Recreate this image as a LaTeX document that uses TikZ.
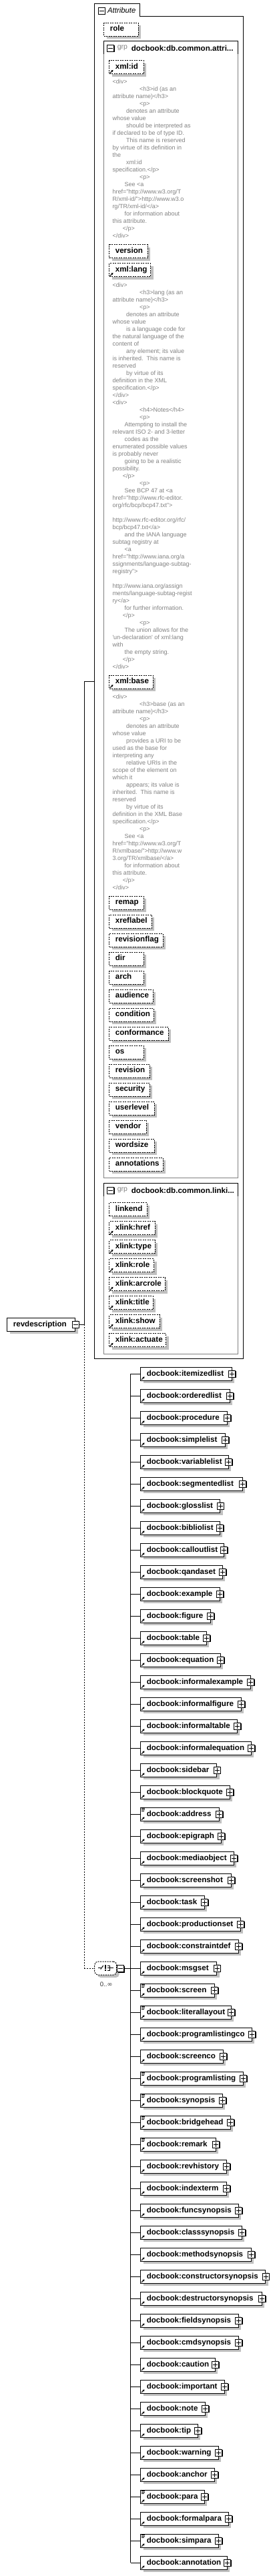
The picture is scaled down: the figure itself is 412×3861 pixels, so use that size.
\documentclass[tikz,border=0pt]{standalone}
\usepackage{fontspec}
\setmainfont{Liberation Sans}
\newfontfamily\symfont{DejaVu Sans}
\usetikzlibrary{arrows.meta,shadows}
\definecolor{shadowgray}{RGB}{192,192,192}
\definecolor{descgray}{RGB}{130,130,130}
\definecolor{grpgray}{RGB}{128,128,128}
\newcommand\indA{\hspace*{40.7pt}}
\newcommand\indB{\hspace*{20.7pt}}
\newcommand\indC{\hspace*{18pt}}
\newcommand\indD{\hspace*{15.3pt}}
\tikzset{
  lbl/.style={font=\fontsize{11.6}{13}\selectfont\bfseries},
  shadowed/.style={general shadow={fill=shadowgray, shadow xshift=4pt, shadow yshift=-4pt}},
  boxbase/.style={line width=1pt, fill=white, minimum height=20pt, inner ysep=0pt, inner xsep=9pt, align=left, text height=8.5pt, text depth=1.3pt, shadowed, lbl},
  attbox/.style={boxbase, draw, dash pattern=on 2pt off 1.5pt, anchor=north west, text depth=3.6pt},
  elbox/.style={boxbase, draw, anchor=west},
  desc/.style={font=\fontsize{9}{11}\selectfont, text=descgray, align=left, inner sep=0pt, anchor=north west},
  pmbox/.style={draw, line width=1pt, fill=white, minimum size=10pt, inner sep=0pt, general shadow={fill=black, shadow xshift=1pt, shadow yshift=-1pt}},
  plusbox/.style={pmbox, path picture={
     \draw[line width=1pt] ([xshift=-3.5pt]path picture bounding box.center) -- ([xshift=3.5pt]path picture bounding box.center);
     \draw[line width=1pt] ([yshift=-3.5pt]path picture bounding box.center) -- ([yshift=3.5pt]path picture bounding box.center);}},
  minusbox/.style={pmbox, path picture={
     \draw[line width=1pt] ([xshift=-3.5pt]path picture bounding box.center) -- ([xshift=3.5pt]path picture bounding box.center);}},
  refarrow/.style={line width=1.1pt, -{Triangle[length=2.6pt,width=3.2pt]}},
  conn/.style={line width=1pt},
  grplbl/.style={anchor=west, inner sep=0pt, text=grpgray, font=\fontsize{10.5}{12}\selectfont},
  grpname/.style={anchor=west, inner sep=0pt, lbl},
  choicebox/.style={draw, line width=1pt, dash pattern=on 2pt off 1.5pt, rounded corners=5pt, fill=white, minimum width=33pt, minimum height=20pt, inner sep=0pt, shadowed},
}
\newcommand\refmark[1]{\draw[refarrow] ([shift={(1.6,-1.8)}]#1.south west) -- ++(4.6,-4.6);}
\newcommand\mixmark[1]{\draw[line width=0.9pt] ([shift={(1.8,1.8)}]#1.north west) -- ++(5.2,0) ([shift={(1.8,3.5)}]#1.north west) -- ++(5.2,0) ([shift={(1.8,5.2)}]#1.north west) -- ++(3.6,0);}
\begin{document}
\begin{tikzpicture}[x=1pt,y=-1pt]
\useasboundingbox (0,0) rectangle (412,3861);
\fill[white] (0,0) rectangle (412,3861);
% ---------- Attribute container ----------
\draw[conn] (141.7,2036) -- (141.7,5.7) -- (209.3,5.7) -- (209.3,24.3) -- (364.3,24.3) -- (364.3,2036) -- cycle;
\node[minusbox] (attrminus) at (152,16) {};
\node[anchor=west, inner sep=0pt, font=\fontsize{11.3}{13}\selectfont\itshape] (attrtitle) at (161,15.5) {Attribute};
\coordinate (attrin) at (141.7,1021.7);
\node[attbox, text width=33.4pt] (role) at (155.3,33.7) {role};
% ---------- group 1 ----------
\draw[grpgray, line width=1pt] (155.3,61.3) rectangle (356.3,1765.7);
\draw[conn] (155.3,81) -- (155.3,61.3) -- (356.3,61.3) -- (356.3,81);
\node[minusbox] (g1minus) at (165.8,72) {};
\node[grplbl] (g1grp) at (175.7,72) {grp};
\node[grpname] (g1name) at (196.7,72) {docbook:db.common.attri...};
\node[attbox, text width=33.4pt] (xmlid) at (163.3,90.3) {xml:id};
\refmark{xmlid}
\node[desc] (xmliddesc) at (168.3,118.5) {\rule{0pt}{7pt}<div>\\
\indA<h3>id (as an\\
attribute name)</h3>\\
\indA<p>\\
\indB denotes an attribute\\
whose value\\
\indB should be interpreted as\\
if declared to be of type ID.\\
\indB This name is reserved\\
by virtue of its definition in\\
the\\
\indB xml:id\\
specification.</p>\\
\indA<p>\\
\indC See <a\\
href="http://www.w3.org/T\\
R/xml-id/">http://www.w3.o\\
rg/TR/xml-id/</a>\\
\indC for information about\\
this attribute.\\
\indD</p>\\
</div>};
\node[attbox, text width=39.4pt] (version) at (163.3,366.3) {version};
\node[attbox, text width=43.7pt] (xmllang) at (163.3,394.3) {xml:lang};
\refmark{xmllang}
\node[desc] (xmllangdesc) at (168.3,422.9) {\rule{0pt}{7pt}<div>\\
\indA<h3>lang (as an\\
attribute name)</h3>\\
\indA<p>\\
\indB denotes an attribute\\
whose value\\
\indB is a language code for\\
the natural language of the\\
content of\\
\indB any element; its value\\
is inherited.\ \ This name is\\
reserved\\
\indB by virtue of its\\
definition in the XML\\
specification.</p>\\
</div>\\
<div>\\
\indA<h4>Notes</h4>\\
\indA<p>\\
\indC Attempting to install the\\
relevant ISO 2- and 3-letter\\
\indC codes as the\\
enumerated possible values\\
is probably never\\
\indC going to be a realistic\\
possibility.\\
\indD</p>\\
\indA<p>\\
\indC See BCP 47 at <a\\
href="http://www.rfc-editor.\\
org/rfc/bcp/bcp47.txt">\\
\mbox{}\\
http://www.rfc-editor.org/rfc/\\
bcp/bcp47.txt</a>\\
\indC and the IANA language\\
subtag registry at\\
\indC <a\\
href="http://www.iana.org/a\\
ssignments/language-subtag-\\
registry">\\
\mbox{}\\
http://www.iana.org/assign\\
ments/language-subtag-regist\\
ry</a>\\
\indC for further information.\\
\indD</p>\\
\indA<p>\\
\indC The union allows for the\\
\textquotesingle un-declaration\textquotesingle{} of xml:lang\\
with\\
\indC the empty string.\\
\indD</p>\\
</div>};
\node[attbox, text width=47.4pt] (xmlbase) at (163.3,1011.7) {xml:base};
\refmark{xmlbase}
\node[desc] (xmlbasedesc) at (168.3,1040.2) {\rule{0pt}{7pt}<div>\\
\indA<h3>base (as an\\
attribute name)</h3>\\
\indA<p>\\
\indB denotes an attribute\\
whose value\\
\indB provides a URI to be\\
used as the base for\\
interpreting any\\
\indB relative URIs in the\\
scope of the element on\\
which it\\
\indB appears; its value is\\
inherited.\ \ This name is\\
reserved\\
\indB by virtue of its\\
definition in the XML Base\\
specification.</p>\\
\indA<p>\\
\indC See <a\\
href="http://www.w3.org/T\\
R/xmlbase/">http://www.w\\
3.org/TR/xmlbase/</a>\\
\indC for information about\\
this attribute.\\
\indD</p>\\
</div>};
\foreach \k/\nm/\r in {0/remap/214.7, 1/xreflabel/226.7, 2/revisionflag/243.7, 3/dir/214.7, 4/arch/214.7, 5/audience/228.7, 6/condition/229.7, 7/conformance/251.7, 8/os/214.7, 9/revision/223.7, 10/security/223.7, 11/userlevel/230.7, 12/vendor/218.7, 13/wordsize/230.7, 14/annotations/243.7}{
  \pgfmathsetmacro\ty{1342.7+28*\k}
  \pgfmathsetmacro\tw{\r-163.3-18}
  \node[attbox, text width=\tw pt] (ga\k) at (163.3,\ty) {\nm};
}
% ---------- group 2 ----------
\draw[grpgray, line width=1pt] (155.3,1773.3) rectangle (356.3,2029.3);
\draw[conn] (155.3,1793) -- (155.3,1773.3) -- (356.3,1773.3) -- (356.3,1793);
\node[minusbox] (g2minus) at (165.8,1784) {};
\node[grplbl] (g2grp) at (175.7,1784) {grp};
\node[grpname] (g2name) at (196.7,1784) {docbook:db.common.linki...};
\foreach \k/\nm/\r/\rf in {0/linkend/219.7/0, 1/xlink:href/231.7/1, 2/xlink:type/231.7/1, 3/xlink:role/230/1, 4/xlink:arcrole/246.7/1, 5/xlink:title/228.7/1, 6/xlink:show/238.7/1, 7/xlink:actuate/248/1}{
  \pgfmathsetmacro\ty{1802.3+28*\k}
  \pgfmathsetmacro\tw{\r-163.3-18}
  \node[attbox, text width=\tw pt] (gb\k) at (163.3,\ty) {\nm};
  \ifnum\rf=1 \refmark{gb\k}\fi
}
% ---------- root element ----------
\node[elbox, text width=83.7pt] (rd) at (10.3,1985.3) {revdescription};
\node[minusbox] (rdminus) at (rd.east) {};
\coordinate (jn) at (126.7,1985.3);
% ---------- choice ----------
\node[choicebox] (choice) at (158.2,2950) {};
\draw[line width=1pt] ([shift={(-11.5,-0.7)}]choice.center) -- ++(4.5,0);
\draw[line width=1pt] ([shift={(-7.5,1.5)}]choice.center) -- ++(4,-5.5);
\foreach \dy in {-3.7,-0.7,2.6}{\fill ([shift={(-1,\dy-1)}]choice.center) rectangle ++(2.2,2.2);}
\draw[line width=1pt] ([shift={(2.5,-3.2)}]choice.center) -- ++(4,0) -- ++(0,6.2) -- ++(-4,0);
\draw[line width=1pt] ([shift={(2.5,-0.1)}]choice.center) -- ++(9,0);
\node[minusbox] (chminus) at (180.85,2950.6) {};
\node[font=\fontsize{9.5}{11}\selectfont, text=black!80, inner sep=0pt] (occ) at (159.2,2974) {0..{\symfont ∞}};
\draw[conn] (rdminus.east) -- (jn) |- (attrin);
\draw[conn, dash pattern=on 2pt off 2pt] (jn) |- (choice.west);
% ---------- children ----------
\foreach \i/\nm/\r/\fl in {1/itemizedlist/346.7/0, 2/orderedlist/343.7/0, 3/procedure/339.7/0, 4/simplelist/336.7/0, 5/variablelist/341.7/0, 6/segmentedlist/362.7/0, 7/glosslist/329.3/0, 8/bibliolist/328.7/0, 9/calloutlist/334.7/0, 10/qandaset/332.7/0, 11/example/328.7/0, 12/figure/314.7/0, 13/table/308.7/0, 14/equation/329.7/0, 15/informalexample/374.7/0, 16/informalfigure/360.7/0, 17/informaltable/354.7/0, 18/informalequation/375.7/0, 19/sidebar/324.3/0, 20/blockquote/343.7/0, 21/address/327.7/1, 22/epigraph/330.7/0, 23/mediaobject/349.7/0, 24/screenshot/345.7/0, 25/task/305.7/0, 26/productionset/359.7/0, 27/constraintdef/356.7/0, 28/msgset/324.3/0, 29/screen/320.7/1, 30/literallayout/345.7/1, 31/programlistingco/376.7/0, 32/screenco/333.7/0, 33/programlisting/363.7/1, 34/synopsis/332.7/1, 35/bridgehead/344.7/1, 36/remark/322.7/1, 37/revhistory/338.7/0, 38/indexterm/338.7/0, 39/funcsynopsis/356.7/0, 40/classsynopsis/361.7/0, 41/methodsynopsis/375.7/0, 42/constructorsynopsis/397.3/0, 43/destructorsynopsis/391.7/0, 44/fieldsynopsis/356.7/0, 45/cmdsynopsis/356.7/0, 46/caution/321.7/0, 47/important/335.7/0, 48/note/306.7/0, 49/tip/295.7/0, 50/warning/326.7/0, 51/anchor/320.7/0, 52/para/305.7/1, 53/formalpara/341.7/0, 54/simpara/326.7/1, 55/annotation/339.7/0}{
  \pgfmathsetmacro\yc{2059.3+33*(\i-1)}
  \pgfmathsetmacro\tw{\r-210.3-18}
  \coordinate (tr\i) at (195.7,\yc);
  \node[elbox, text width=\tw pt] (c\i) at (210.3,\yc) {docbook:\nm};
  \node[plusbox] (p\i) at (c\i.east) {};
  \refmark{c\i}
  \ifnum\fl=1 \mixmark{c\i}\fi
  \draw[conn] (tr\i) -- (c\i.west);
}
\draw[conn] (tr1) -- (tr55);
\draw[conn] (chminus.east) -- (chminus.east -| tr1);
\end{tikzpicture}
\end{document}
